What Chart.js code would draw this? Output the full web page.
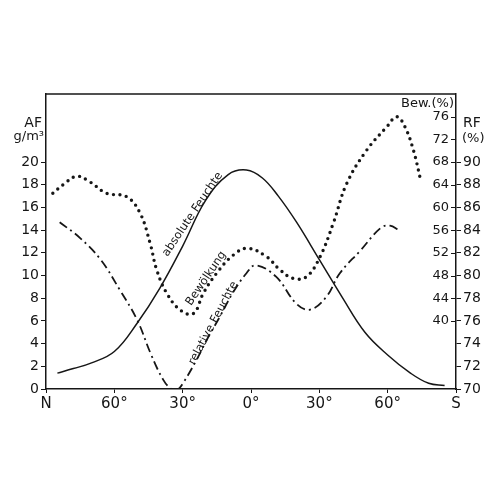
<!DOCTYPE html>
<html>
<head>
<meta charset="utf-8">
<script src="https://cdn.jsdelivr.net/npm/chart.js@4/dist/chart.umd.min.js"></script>
<style>
  html, body { margin:0; padding:0; background:#fff; }
  #wrap { width:500px; height:500px; }
</style>
</head>
<body>
<div id="wrap"><canvas id="c" width="500" height="500"></canvas></div>
<script>
// Data (latitude: negative = north, positive = south)
const afLat  = [-85, -78, -70, -60, -50, -40, -30, -20, -10, -2, 5, 12, 20, 30, 40, 50, 60, 70, 78, 85]
const afVal  = [1.4, 1.8, 2.3, 3.3, 5.8, 8.9, 12.6, 16.6, 18.9, 19.3, 18.6, 17.0, 14.7, 11.4, 8.1, 5.0, 3.0, 1.4, 0.5, 0.3]

const bewLat = [-87, -82.5, -76.5, -70.7, -63.4, -54.6, -48.7, -44.3, -41.4, -37, -31, -25.3, -20.9, -15.1, -7.8, -1.5, 6.9, 12.7, 18.6, 24.4, 30.3, 36.1, 42, 50.8, 59.6, 64, 67.6, 71.3, 74.5]
const bewVal = [62.5, 64, 65.5, 64.5, 62.5, 61.9, 59, 53.7, 49, 44.9, 41.9, 41.3, 44.9, 48.4, 51.6, 52.8, 51.3, 49, 47.5, 47.8, 51.3, 57.2, 64.2, 70.1, 74.2, 76, 74.2, 70.1, 64.8]

const rfLat  = [-84, -75, -66, -57.5, -50, -44, -38.5, -35, -32.5, -29.9, -23.8, -19.5, -13.6, -7.9, -2, 2, 11, 20, 26, 33, 39, 48, 57, 61, 65]
const rfVal  = [84.7, 83.3, 81.4, 78.7, 76.1, 73.1, 70.8, 70.0, 69.9, 70.5, 72.6, 74.3, 76.4, 78.5, 80.2, 80.9, 79.9, 77.5, 77.0, 78.1, 80.2, 82.2, 84.2, 84.4, 84.0]

// Tick values
const latTicks = [-90, -60, -30, 0, 30, 60, 90]
const afTicks  = [0, 2, 4, 6, 8, 10, 12, 14, 16, 18, 20]
const bewTicks = [40, 44, 48, 52, 56, 60, 64, 68, 72, 76]
const rfTicks  = [70, 72, 74, 76, 78, 80, 82, 84, 86, 88, 90]

// Curve labels: sit on their curve (anchor in the curve's own axis units)
const curveLabels = [
  { text: 'absolute Feuchte', axis: 'y',    lat: -23.1, v: 15.05, angle: -56, off: -4 },
  { text: 'Bewölkung',        axis: 'yBew', lat: -17.5, v: 46.9,  angle: -56, off: -3 },
  { text: 'relative Feuchte', axis: 'yRF',  lat: -14.6, v: 75.6,  angle: -62, off: -2 }
]

const INK = '#161616'
const FONT = "'DejaVu Sans', sans-serif"

function pts(xs, ys){ return xs.map((x,i)=>({ x, y: ys[i] })) }
function latLabel(v){ return v === -90 ? 'N' : v === 90 ? 'S' : Math.abs(v) + '°' }

// frame + axis titles + curve labels
const decor = {
  id: 'decor',
  afterDraw(chart){
    const { ctx, chartArea: a, scales } = chart
    ctx.save()
    ctx.strokeStyle = INK; ctx.lineWidth = 1.5
    ctx.beginPath(); ctx.moveTo(a.left, a.top); ctx.lineTo(a.right, a.top); ctx.stroke()

    // small inner tick marks for the cloud-cover scale
    ctx.lineWidth = 1
    bewTicks.forEach(v => {
      const py = Math.round(scales.yBew.getPixelForValue(v)) + 0.5
      ctx.beginPath(); ctx.moveTo(a.right - 5, py); ctx.lineTo(a.right, py); ctx.stroke()
    })

    ctx.fillStyle = INK
    ctx.textBaseline = 'alphabetic'
    ctx.font = `14px ${FONT}`
    ctx.textAlign = 'right'
    ctx.fillText('AF', a.left - 4, a.top + 33)
    ctx.font = `13px ${FONT}`
    ctx.fillText('g/m³', a.left - 2, a.top + 46)
    ctx.fillText('Bew.(%)', a.right - 2, a.top + 13)
    ctx.textAlign = 'left'
    ctx.font = `14px ${FONT}`
    ctx.fillText('RF', a.right + 7, a.top + 33)
    ctx.font = `13px ${FONT}`
    ctx.fillText('(%)', a.right + 6, a.top + 48)

    ctx.textAlign = 'center'; ctx.textBaseline = 'alphabetic'
    curveLabels.forEach(l => {
      const px = scales.x.getPixelForValue(l.lat)
      const py = scales[l.axis].getPixelForValue(l.v)
      ctx.save()
      ctx.translate(px, py); ctx.rotate(l.angle * Math.PI / 180)
      ctx.font = `11.5px ${FONT}`
      ctx.fillText(l.text, 0, l.off)
      ctx.restore()
    })
    ctx.restore()
  }
}

new Chart(document.getElementById('c'), {
  type: 'line',
  data: {
    datasets: [
      { label: 'absolute Feuchte', data: pts(afLat, afVal), yAxisID: 'y',
        borderColor: INK, borderWidth: 1.5, tension: 0.4 },
      { label: 'Bewölkung', data: pts(bewLat, bewVal), yAxisID: 'yBew',
        borderColor: INK, borderWidth: 3.4, borderDash: [0, 6.5], borderCapStyle: 'round',
        tension: 0.4 },
      { label: 'relative Feuchte', data: pts(rfLat, rfVal), yAxisID: 'yRF',
        borderColor: INK, borderWidth: 1.8, borderDash: [9, 4, 2, 4],
        tension: 0.4 }
    ]
  },
  options: {
    responsive: false, animation: false,
    layout: { padding: { top: 94, left: 0, right: 0, bottom: 0 } },
    elements: { point: { radius: 0 } },
    plugins: { legend: { display: false }, tooltip: { enabled: false } },
    scales: {
      x: {
        type: 'linear', position: 'bottom', min: -90, max: 90,
        afterBuildTicks: s => { s.ticks = latTicks.map(v => ({ value: v })) },
        afterFit: s => { s.height = 111 },
        ticks: { callback: latLabel, color: INK, font: { family: FONT, size: 15 }, padding: 2, maxRotation: 0, autoSkip: false },
        grid: { drawOnChartArea: false, tickLength: 4, color: INK },
        border: { color: INK, width: 1.5 }
      },
      y: {
        position: 'left', min: 0, max: 26,
        afterBuildTicks: s => { s.ticks = afTicks.map(v => ({ value: v })) },
        afterFit: s => { s.width = 46 },
        ticks: { color: INK, font: { family: FONT, size: 14 }, padding: 2 },
        grid: { drawOnChartArea: false, tickLength: 5, color: INK },
        border: { color: INK, width: 1.5 }
      },
      yBew: {
        position: 'right', weight: 0, min: 28, max: 80,
        afterBuildTicks: s => { s.ticks = bewTicks.map(v => ({ value: v })) },
        afterFit: s => { s.width = 0 },
        ticks: { mirror: true, padding: -7, color: INK, font: { family: FONT, size: 13 } },
        grid: { display: false },
        border: { display: false }
      },
      yRF: {
        position: 'right', weight: 1, min: 70, max: 96,
        afterBuildTicks: s => { s.ticks = rfTicks.map(v => ({ value: v })) },
        afterFit: s => { s.width = 44 },
        ticks: { color: INK, font: { family: FONT, size: 14 }, padding: 2 },
        grid: { drawOnChartArea: false, tickLength: 5, color: INK },
        border: { color: INK, width: 1.5 }
      }
    }
  },
  plugins: [decor]
})
</script>
</body>
</html>
